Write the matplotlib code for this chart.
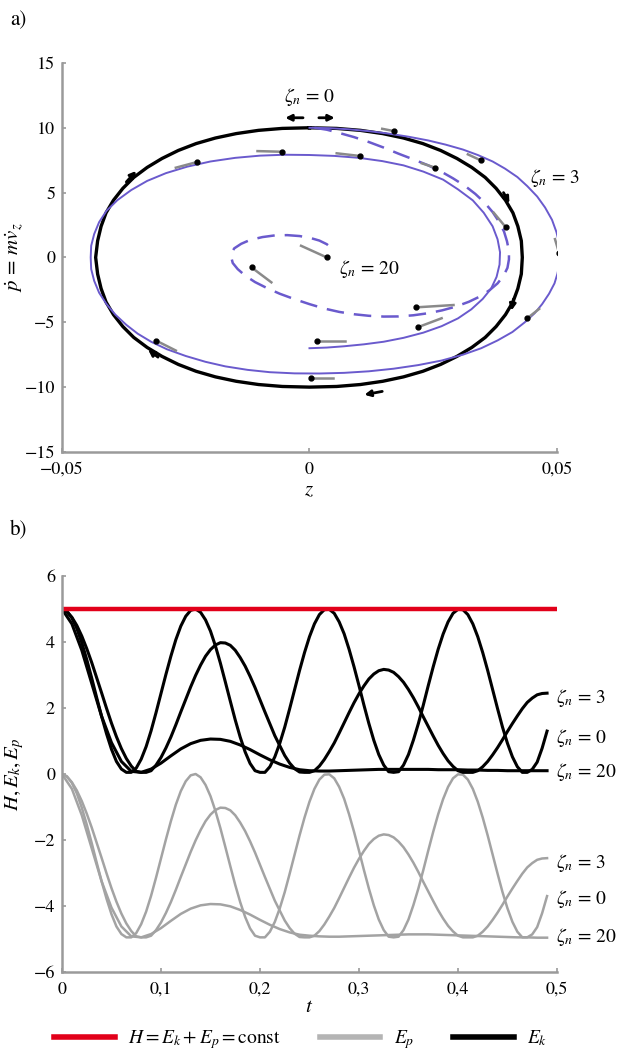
import numpy as np
import matplotlib
matplotlib.use('Agg')
import matplotlib.pyplot as plt

plt.rcParams['font.family'] = ['STIXGeneral', 'DejaVu Serif']
plt.rcParams['mathtext.fontset'] = 'stix'
plt.rcParams['axes.unicode_minus'] = True

# ---------------- a) phase portrait ----------------
# zeta_n = 0 : closed orbit (black)
z0 = [0, .0055, .0103, .0148, .0190, .0229, .0265, .0298, .0328, .0355, .0377, .0396, .0411, .0421, .0428, .0430,
      .0428, .0421, .0411, .0396, .0377, .0355, .0328, .0298, .0265, .0229, .0190, .0148, .0103, .0055, 0,
      -.0055, -.0103, -.0148, -.0190, -.0229, -.0265, -.0298, -.0328, -.0355, -.0377, -.0396, -.0411, -.0421, -.0428, -.0432,
      -.0428, -.0421, -.0411, -.0396, -.0377, -.0355, -.0328, -.0298, -.0265, -.0229, -.0190, -.0148, -.0103, -.0055, 0]
p0 = [10, 9.95, 9.80, 9.55, 9.21, 8.78, 8.25, 7.63, 6.94, 6.17, 5.33, 4.41, 3.44, 2.40, 1.28, 0,
      -1.28, -2.40, -3.44, -4.41, -5.33, -6.17, -6.94, -7.63, -8.25, -8.78, -9.21, -9.55, -9.80, -9.95, -10,
      -9.95, -9.80, -9.55, -9.21, -8.78, -8.25, -7.63, -6.94, -6.17, -5.33, -4.41, -3.44, -2.40, -1.28, 0,
      1.28, 2.40, 3.44, 4.41, 5.33, 6.17, 6.94, 7.63, 8.25, 8.78, 9.21, 9.55, 9.80, 9.95, 10]

# zeta_n = 3 : solid blue spiral
z3 = [0.000, 0.004, 0.008, 0.012, 0.016, 0.020, 0.024, 0.0275, 0.031, 0.034,
      0.037, 0.0395, 0.042, 0.044, 0.046, 0.0476, 0.049, 0.0499, 0.0505, 0.0507,
      0.0505, 0.0501, 0.0495, 0.0484, 0.047, 0.0455, 0.0435, 0.041, 0.038, 0.0347,
      0.031, 0.0267, 0.022, 0.017, 0.012, 0.007, 0.002, -0.003, -0.008, -0.0125,
      -0.017, -0.021, -0.025, -0.0288, -0.032, -0.0347, -0.037, -0.0392, -0.041, -0.0425,
      -0.0435, -0.0441, -0.0442, -0.0441, -0.0435, -0.0425, -0.041, -0.0388, -0.036, -0.0328,
      -0.029, -0.0247, -0.020, -0.015, -0.010, -0.005, 0.000, 0.005, 0.010, 0.0147,
      0.019, 0.023, 0.027, 0.030, 0.033, 0.0352, 0.037, 0.038, 0.0385, 0.0384,
      0.0378, 0.0367, 0.035, 0.0327, 0.030, 0.0267, 0.023, 0.019, 0.015, 0.011,
      0.007, 0.0035, 0.000]
p3 = [10.0, 9.97, 9.88, 9.74, 9.55, 9.31, 9.02, 8.70, 8.32, 7.90,
      7.40, 6.85, 6.20, 5.50, 4.70, 3.85, 2.90, 1.95, 1.00, 0.25,
      -0.50, -1.25, -2.00, -2.80, -3.60, -4.30, -5.00, -5.75, -6.40, -7.00,
      -7.50, -7.95, -8.30, -8.58, -8.78, -8.90, -8.95, -8.94, -8.85, -8.67,
      -8.40, -8.05, -7.60, -7.08, -6.50, -5.88, -5.20, -4.42, -3.60, -2.72,
      -1.80, -0.90, 0.00, 0.90, 1.80, 2.72, 3.60, 4.42, 5.20, 5.90,
      6.50, 7.00, 7.40, 7.68, 7.85, 7.92, 7.90, 7.83, 7.68, 7.43,
      7.10, 6.62, 6.00, 5.25, 4.40, 3.45, 2.40, 1.40, 0.40, -0.55,
      -1.50, -2.40, -3.20, -4.00, -4.70, -5.30, -5.80, -6.20, -6.50, -6.70,
      -6.85, -6.95, -7.00]

# zeta_n = 20 : dashed blue spiral
z20 = [0.001, 0.0035, 0.006, 0.009, 0.012, 0.015, 0.018, 0.021, 0.024, 0.0266,
       0.029, 0.0314, 0.0335, 0.0354, 0.037, 0.0383, 0.0393, 0.0399, 0.0403, 0.0403,
       0.040, 0.0392, 0.038, 0.0364, 0.0345, 0.0322, 0.0295, 0.0268, 0.024, 0.021,
       0.018, 0.015, 0.012, 0.009, 0.006, 0.003, 0.000, -0.003, -0.006, -0.0086,
       -0.011, -0.013, -0.0145, -0.0155, -0.0158, -0.0157, -0.0152, -0.0138, -0.012, -0.0095,
       -0.007, -0.0045, -0.002, 0.0002, 0.002, 0.0035, 0.0045]
p20 = [10.0, 9.85, 9.6, 9.28, 8.9, 8.47, 8.0, 7.56, 7.1, 6.62,
       6.1, 5.52, 4.9, 4.22, 3.5, 2.75, 2.0, 1.25, 0.5, -0.15,
       -0.8, -1.42, -2.0, -2.52, -3.0, -3.42, -3.8, -4.08, -4.3, -4.46,
       -4.55, -4.56, -4.5, -4.38, -4.2, -3.94, -3.6, -3.22, -2.8, -2.36,
       -1.9, -1.4, -0.9, -0.43, 0.0, 0.37, 0.7, 1.05, 1.35, 1.57,
       1.7, 1.72, 1.65, 1.5, 1.3, 1.02, 0.7]

# direction arrows (tail z, tail p, head z, head p)
black_arrows = [(-0.0013, 10.77, -0.0049, 10.77), (0.0019, 10.77, 0.0051, 10.77),
                (-0.037, 5.82, -0.035, 6.67), (0.0392, 5.0, 0.0404, 4.18),
                (0.0412, -3.21, 0.0408, -4.1), (0.0147, -10.33, 0.0111, -10.59),
                (-0.0306, -7.69, -0.0326, -7.1)]
dot_arrows = [(0.0147, 9.92, 0.0171, 9.74), (0.032, 7.95, 0.0346, 7.49),
              (0.0496, 1.41, 0.0504, 0.38), (0.0227, 7.26, 0.0254, 6.92),
              (0.0372, 3.46, 0.0397, 2.31), (0.0055, 8.03, 0.0103, 7.82),
              (-0.0105, 8.2, -0.0055, 8.15), (-0.027, 6.92, -0.0227, 7.36),
              (-0.0017, 0.9, 0.0035, 0.0), (-0.0077, -1.92, -0.0117, -0.77),
              (0.0464, -3.97, 0.044, -4.69), (0.0291, -3.67, 0.0215, -3.85),
              (0.0267, -4.69, 0.0219, -5.38), (0.0071, -6.46, 0.0015, -6.46),
              (0.0047, -9.31, 0.0003, -9.31), (-0.027, -7.18, -0.031, -6.41)]

z_ticks = [-0.05, 0, 0.05]
z_ticklabels = ['\u22120,05', '0', '0,05']
p_ticks = [-15, -10, -5, 0, 5, 10, 15]
p_ticklabels = ['\u221215', '\u221210', '\u22125', '0', '5', '10', '15']

# ---------------- b) energies ----------------
# zeta_n = 0 and 3 read every 0.005 s, zeta_n = 20 every 0.01 s
t_fine = np.round(np.arange(0, 0.4925, 0.005), 3)
t = np.round(np.arange(0, 0.495, 0.01), 2)

Ek0 = [5.00, 4.93, 4.73, 4.41, 3.98, 3.47, 2.91, 2.32, 1.75, 1.22,
       0.75, 0.38, 0.15, 0.05, 0.05, 0.18, 0.45, 0.83, 1.31, 1.86,
       2.44, 3.02, 3.57, 4.07, 4.48, 4.78, 4.96, 5.00, 4.90, 4.67,
       4.33, 3.88, 3.36, 2.79, 2.21, 1.64, 1.12, 0.67, 0.32, 0.10,
       0.05, 0.05, 0.22, 0.52, 0.93, 1.42, 1.98, 2.56, 3.14, 3.68,
       4.16, 4.55, 4.83, 4.98, 4.99, 4.87, 4.61, 4.25, 3.78, 3.25,
       2.68, 2.09, 1.53, 1.02, 0.59, 0.27, 0.07, 0.05, 0.07, 0.27,
       0.59, 1.03, 1.53, 2.09, 2.68, 3.25, 3.78, 4.24, 4.61, 4.87,
       4.99, 4.98, 4.83, 4.55, 4.16, 3.68, 3.14, 2.56, 1.98, 1.42,
       0.93, 0.52, 0.22, 0.05, 0.05, 0.14, 0.36, 0.78, 1.30]
Ep0 = [0.00, -0.07, -0.27, -0.59, -1.02, -1.53, -2.09, -2.68, -3.25, -3.78,
       -4.25, -4.62, -4.85, -4.95, -4.95, -4.82, -4.55, -4.17, -3.69, -3.14,
       -2.56, -1.98, -1.43, -0.93, -0.52, -0.22, -0.04, 0.00, -0.10, -0.33,
       -0.67, -1.12, -1.64, -2.21, -2.79, -3.36, -3.88, -4.33, -4.68, -4.90,
       -4.95, -4.95, -4.78, -4.48, -4.07, -3.58, -3.02, -2.44, -1.86, -1.32,
       -0.84, -0.45, -0.17, -0.02, -0.01, -0.13, -0.39, -0.75, -1.22, -1.75,
       -2.32, -2.91, -3.47, -3.98, -4.41, -4.73, -4.93, -4.95, -4.93, -4.73,
       -4.41, -3.97, -3.47, -2.91, -2.32, -1.75, -1.22, -0.76, -0.39, -0.13,
       -0.01, -0.02, -0.17, -0.45, -0.84, -1.32, -1.86, -2.44, -3.02, -3.58,
       -4.07, -4.48, -4.78, -4.95, -4.95, -4.86, -4.64, -4.22, -3.70]
Ek3 = [5.00, 4.92, 4.75, 4.50, 4.18, 3.80, 3.38, 2.92, 2.46, 1.99,
       1.54, 1.13, 0.77, 0.47, 0.24, 0.08, 0.05, 0.05, 0.10, 0.27,
       0.50, 0.79, 1.12, 1.49, 1.88, 2.26, 2.64, 2.99, 3.30, 3.57,
       3.77, 3.91, 3.98, 3.97, 3.90, 3.75, 3.53, 3.27, 2.96, 2.62,
       2.25, 1.88, 1.52, 1.16, 0.86, 0.56, 0.33, 0.16, 0.06, 0.05,
       0.05, 0.10, 0.24, 0.44, 0.68, 0.94, 1.24, 1.55, 1.86, 2.16,
       2.43, 2.67, 2.88, 3.03, 3.13, 3.17, 3.15, 3.08, 2.95, 2.78,
       2.56, 2.31, 2.03, 1.73, 1.44, 1.15, 0.87, 0.62, 0.40, 0.23,
       0.10, 0.05, 0.05, 0.05, 0.10, 0.22, 0.38, 0.58, 0.80, 1.04,
       1.29, 1.53, 1.76, 1.98, 2.17, 2.30, 2.40, 2.44, 2.45]
Ep3 = [0.00, -0.08, -0.25, -0.50, -0.82, -1.20, -1.62, -2.08, -2.54, -3.01,
       -3.46, -3.87, -4.23, -4.53, -4.76, -4.92, -4.95, -4.95, -4.90, -4.73,
       -4.50, -4.21, -3.88, -3.51, -3.12, -2.74, -2.36, -2.01, -1.70, -1.43,
       -1.23, -1.09, -1.02, -1.03, -1.10, -1.25, -1.47, -1.73, -2.04, -2.38,
       -2.75, -3.12, -3.48, -3.84, -4.14, -4.44, -4.67, -4.84, -4.94, -4.95,
       -4.95, -4.90, -4.76, -4.56, -4.32, -4.06, -3.76, -3.45, -3.14, -2.84,
       -2.57, -2.33, -2.12, -1.97, -1.87, -1.83, -1.85, -1.92, -2.05, -2.22,
       -2.44, -2.69, -2.97, -3.27, -3.56, -3.85, -4.13, -4.38, -4.60, -4.77,
       -4.90, -4.95, -4.95, -4.95, -4.90, -4.78, -4.62, -4.42, -4.20, -3.96,
       -3.71, -3.47, -3.24, -3.02, -2.83, -2.70, -2.60, -2.56, -2.55]
Ek20 = [5.00, 4.55, 3.75, 2.75, 1.75, 0.95, 0.38, 0.08, 0.05, 0.15,
        0.33, 0.55, 0.76, 0.92, 1.02, 1.06, 1.05, 0.99, 0.88, 0.74,
        0.58, 0.43, 0.30, 0.20, 0.13, 0.10, 0.09, 0.09, 0.10, 0.11,
        0.12, 0.13, 0.14, 0.14, 0.14, 0.14, 0.14, 0.14, 0.13, 0.13,
        0.13, 0.12, 0.12, 0.11, 0.11, 0.10, 0.10, 0.10, 0.10, 0.10]
Ep20 = [0.00, -0.45, -1.25, -2.25, -3.25, -4.05, -4.62, -4.92, -4.95, -4.85,
        -4.67, -4.45, -4.24, -4.08, -3.98, -3.94, -3.95, -4.01, -4.12, -4.26,
        -4.42, -4.57, -4.70, -4.80, -4.87, -4.90, -4.92, -4.93, -4.93, -4.92,
        -4.91, -4.90, -4.89, -4.88, -4.87, -4.86, -4.86, -4.86, -4.87, -4.88,
        -4.89, -4.90, -4.91, -4.92, -4.93, -4.94, -4.95, -4.95, -4.96, -4.96]
t_H = [0, 0.5]
H = [5, 5]

t_ticks = [0, 0.1, 0.2, 0.3, 0.4, 0.5]
t_ticklabels = ['0', '0,1', '0,2', '0,3', '0,4', '0,5']
e_ticks = [-6, -4, -2, 0, 2, 4, 6]
e_ticklabels = ['\u22126', '\u22124', '\u22122', '0', '2', '4', '6']

# right-hand labels of the curves (y position in data units)
ek_labels = [(2.3, '3'), (1.1, '0'), (0.05, '20')]
ep_labels = [(-2.7, '3'), (-3.8, '0'), (-4.95, '20')]

blue = '#6a5acd'
spine_col = '#9a9a9a'

fig = plt.figure(figsize=(6.23, 10.54), dpi=100)
ax1 = fig.add_axes([0.0995, 0.5712, 0.7945, 0.3691])
ax2 = fig.add_axes([0.0995, 0.0778, 0.7945, 0.3757])


def style_axes(ax):
    for s in ['top', 'right']:
        ax.spines[s].set_visible(False)
    for s in ['left', 'bottom']:
        ax.spines[s].set_color(spine_col)
        ax.spines[s].set_linewidth(1.8)
    ax.tick_params(direction='in', length=3, width=1.2, color=spine_col,
                   labelsize=13)
    ax.tick_params(axis='x', pad=7)
    ax.tick_params(axis='y', pad=5)


# ---- panel a
ax1.plot(z0, p0, color='black', lw=2.4)
ax1.plot(z3, p3, color=blue, lw=1.4)
ax1.plot(z20, p20, color=blue, lw=1.8, dashes=(7, 4))
for zt, pt, zh, ph in dot_arrows:
    ax1.plot([zt, zh], [pt, ph], color='#8a8a8a', lw=1.8)
    ax1.plot(zh, ph, 'o', color='black', ms=3.5)
for zt, pt, zh, ph in black_arrows:
    ax1.annotate('', xy=(zh, ph), xytext=(zt, pt),
                 arrowprops=dict(arrowstyle='-|>', color='black', lw=2,
                                 mutation_scale=9, shrinkA=0, shrinkB=0))
ax1.text(0.0, 12.4, r'$\zeta_n$ = 0', fontsize=14, ha='center', va='center')
ax1.text(0.0445, 6.1, r'$\zeta_n$ = 3', fontsize=14, ha='left', va='center')
ax1.text(0.006, -0.9, r'$\zeta_n$ = 20', fontsize=14, ha='left', va='center')

ax1.set_xlim(-0.05, 0.05)
ax1.set_ylim(-15, 15)
ax1.set_xticks(z_ticks)
ax1.set_xticklabels(z_ticklabels)
ax1.set_yticks(p_ticks)
ax1.set_yticklabels(p_ticklabels)
style_axes(ax1)
ax1.set_xlabel(r'$z$', fontsize=15, labelpad=2)
ax1.set_ylabel(r'$\dot{p}\,=\,m\dot{v}_z$', fontsize=15)
ax1.yaxis.set_label_coords(-0.072, 0.5)

# ---- panel b
ax2.plot(t_fine, Ep0, color='#a3a3a3', lw=1.8)
ax2.plot(t_fine, Ep3, color='#a3a3a3', lw=1.8)
ax2.plot(t, Ep20, color='#a3a3a3', lw=1.8)
ax2.plot(t_fine, Ek0, color='black', lw=2.2)
ax2.plot(t_fine, Ek3, color='black', lw=2.2)
ax2.plot(t, Ek20, color='black', lw=2.2)
ax2.plot(t_H, H, color='#e2001a', lw=3.2)
for y, s in ek_labels + ep_labels:
    ax2.text(0.499, y, r'$\zeta_n$ = ' + s, fontsize=14, ha='left',
             va='center', clip_on=False)

ax2.set_xlim(0, 0.5)
ax2.set_ylim(-6, 6)
ax2.set_xticks(t_ticks)
ax2.set_xticklabels(t_ticklabels)
ax2.set_yticks(e_ticks)
ax2.set_yticklabels(e_ticklabels)
style_axes(ax2)
ax2.set_xlabel(r'$t$', fontsize=15, labelpad=0)
ax2.set_ylabel(r'$H, E_k, E_p$', fontsize=15)
ax2.yaxis.set_label_coords(-0.072, 0.5)

fig.text(0.03, 0.981, 'a)', fontsize=15, ha='center', va='center')
fig.text(0.03, 0.497, 'b)', fontsize=15, ha='center', va='center')

# legend below panel b
h1, = ax2.plot([], [], color='#e2001a', lw=4)
h2, = ax2.plot([], [], color='#b4b4b4', lw=4)
h3, = ax2.plot([], [], color='black', lw=4)
fig.legend([h1, h2, h3],
           [r'$H = E_k + E_p = $const', r'$E_p$', r'$E_k$'],
           loc='center', bbox_to_anchor=(0.483, 0.0135), ncol=3,
           frameon=False, fontsize=14, handlelength=3.1, handletextpad=0.7,
           columnspacing=2.0)

fig.savefig('out.png', dpi=100)
plt.close()
